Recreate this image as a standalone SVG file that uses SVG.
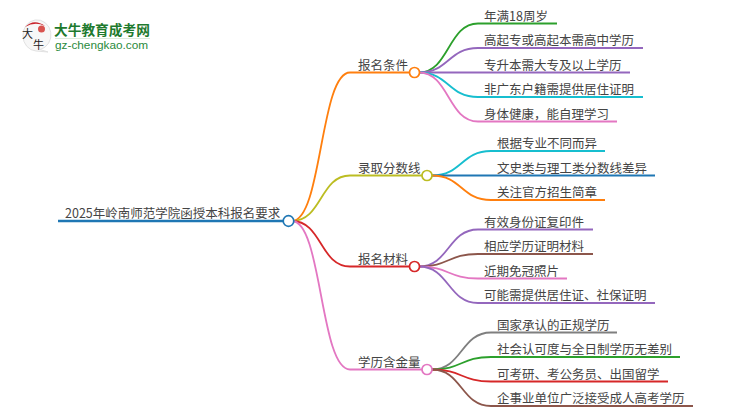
<svg xmlns="http://www.w3.org/2000/svg" width="750" height="410" viewBox="0 0 750 410">
<style>
text{font-family:"Noto Sans CJK SC","Liberation Sans",sans-serif;font-size:12.5px;fill:#444}
.c path{fill:none;stroke-width:1.800}
circle{fill:#fff;stroke-width:1.700}
.b{stroke:#1f77b4}.o{stroke:#ff7f0e}.y{stroke:#bcbd22}.r{stroke:#d62728}.p{stroke:#e377c2}.g{stroke:#2ca02c}.u{stroke:#9467bd}.t{stroke:#17becf}.n{stroke:#8c564b}.h{stroke:#7f7f7f}
</style>
<g id="connectors" class="c">
<path class="b" d="M58 221H288" style="stroke-width:2.500"/>
<path class="o" d="M292 221C322 221 320 72.500 350 72.500H414"/>
<path class="y" d="M292 221C322 221 320 175.500 350 175.500H427"/>
<path class="r" d="M292 221C322 221 320 266.500 350 266.500H414"/>
<path class="p" d="M292 221C322 221 320 369.500 350 369.500H427"/>
<path class="g" d="M419 72.500C449 72.500 448 23.500 478 23.500H557"/>
<path class="u" d="M419 72.500C449 72.500 448 48 478 48H643"/>
<path class="u" d="M419 72.500H630"/>
<path class="t" d="M419 72.500C449 72.500 448 97 478 97H643"/>
<path class="p" d="M419 72.500C449 72.500 448 121.500 478 121.500H617"/>
<path class="t" d="M432 175.500C462 175.500 461 151 491 151H605"/>
<path class="b" d="M432 175.500H655"/>
<path class="o" d="M432 175.500C462 175.500 461 200 491 200H605"/>
<path class="u" d="M419 266.500C449 266.500 448 229.500 478 229.500H593"/>
<path class="n" d="M419 266.500C449 266.500 448 254 478 254H593"/>
<path class="p" d="M419 266.500C449 266.500 448 278.500 478 278.500H567"/>
<path class="u" d="M419 266.500C449 266.500 448 303 478 303H655"/>
<path class="h" d="M432 369.500C462 369.500 461 332.500 491 332.500H617"/>
<path class="g" d="M432 369.500C462 369.500 461 357 491 357H680"/>
<path class="r" d="M432 369.500C462 369.500 461 381.500 491 381.500H668"/>
<path class="n" d="M432 369.500C462 369.500 461 406 491 406H693"/>
</g>
<g id="logo">
<path d="M23 36A14 15 0 1 1 40 49.500L48 52L36 51A14 15 0 0 1 23 36Z" fill="#f7f7f7" stroke="#e2e2e2"/>
<path d="M25 27Q34 18 45 26Q35 21 25 27Z" fill="#c8222a"/>
<circle cx="41.500" cy="29" r="3.500" style="fill:#d9534f;stroke:none"/>
<text x="22" y="38" style="font-size:11px;fill:#222">大</text>
<text x="33" y="49" style="font-size:11px;fill:#222">牛</text>
<text x="54" y="35" style="font-size:13.700px;font-weight:700;fill:#1e7a2e">大牛教育成考网</text>
<text x="55" y="49" style="font-family:'Liberation Sans',sans-serif;font-size:11.800px;fill:#2a8a3c">gz-chengkao.com</text>
<rect x="55" y="38" width="95" height="1" fill="#dcebdc"/>
</g>
<g id="root"><text x="65" y="218">2025年岭南师范学院函授本科报名要求</text><circle class="b" cx="288.500" cy="221" r="5.300"/></g>
<g id="b1"><text x="358" y="69.500">报名条件</text><circle class="o" cx="414.500" cy="72.500" r="5"/></g>
<g id="b2"><text x="358" y="172.500">录取分数线</text><circle class="y" cx="427" cy="175.500" r="5"/></g>
<g id="b3"><text x="358" y="263.500">报名材料</text><circle class="r" cx="414.500" cy="266.500" r="5"/></g>
<g id="b4"><text x="358" y="366.500">学历含金量</text><circle class="p" cx="427" cy="369.500" r="5"/></g>
<g id="l11"><text x="484" y="20.500">年满18周岁</text></g>
<g id="l12"><text x="484" y="45">高起专或高起本需高中学历</text></g>
<g id="l13"><text x="484" y="69.500">专升本需大专及以上学历</text></g>
<g id="l14"><text x="484" y="94">非广东户籍需提供居住证明</text></g>
<g id="l15"><text x="484" y="118.500">身体健康，能自理学习</text></g>
<g id="l21"><text x="497" y="148">根据专业不同而异</text></g>
<g id="l22"><text x="497" y="172.500">文史类与理工类分数线差异</text></g>
<g id="l23"><text x="497" y="197">关注官方招生简章</text></g>
<g id="l31"><text x="484" y="226.500">有效身份证复印件</text></g>
<g id="l32"><text x="484" y="251">相应学历证明材料</text></g>
<g id="l33"><text x="484" y="275.500">近期免冠照片</text></g>
<g id="l34"><text x="484" y="300">可能需提供居住证、社保证明</text></g>
<g id="l41"><text x="497" y="329.500">国家承认的正规学历</text></g>
<g id="l42"><text x="497" y="354">社会认可度与全日制学历无差别</text></g>
<g id="l43"><text x="497" y="378.500">可考研、考公务员、出国留学</text></g>
<g id="l44"><text x="497" y="403">企事业单位广泛接受成人高考学历</text></g>
</svg>
